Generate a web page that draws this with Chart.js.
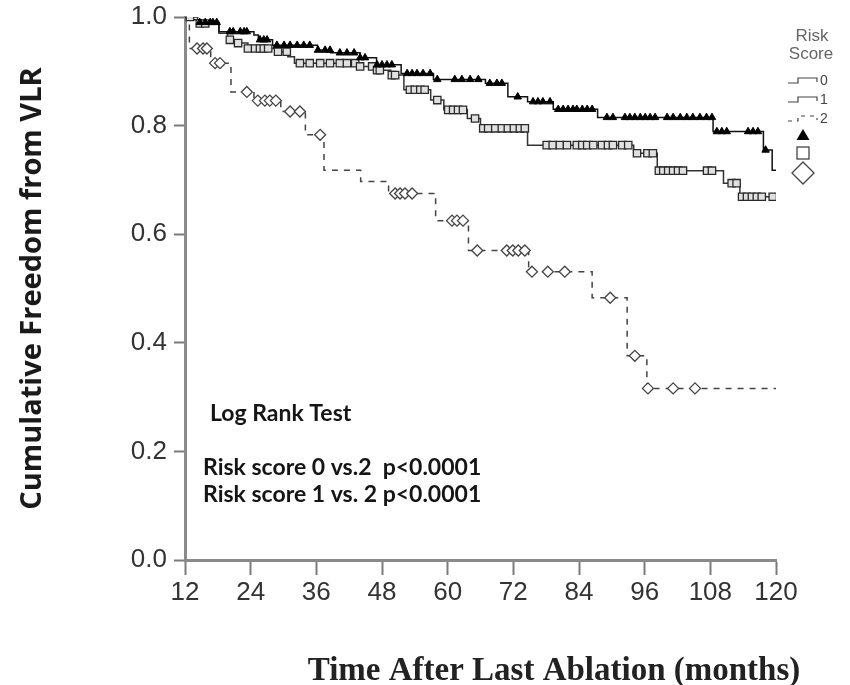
<!DOCTYPE html>
<html><head><meta charset="utf-8">
<script src="https://cdn.jsdelivr.net/npm/chart.js@4/dist/chart.umd.min.js"></script>
<style>html,body{margin:0;padding:0;background:#fff;}#wrap{position:relative;width:850px;height:685px;}</style>
</head><body><div id="wrap"><canvas id="c" width="850" height="685"></canvas></div>
<script>
// ---- axis ticks ----
const xTickValues = [12, 24, 36, 48, 60, 72, 84, 96, 108, 120];
const xTickLabels = ['12', '24', '36', '48', '60', '72', '84', '96', '108', '120'];
const yTickValues = [0, 0.2, 0.4, 0.6, 0.8, 1.0];
const yTickLabels = ['0.0', '0.2', '0.4', '0.6', '0.8', '1.0'];

// ---- Risk score 0 (solid, triangles) ----
const risk0Times = [12, 13, 14.5, 18.2, 24.6, 25.4, 28.0, 36.2, 38.6, 44.0, 47.0, 51.5, 57.4, 66.9, 71.0, 74.6, 79.3, 87.4, 108.5, 117.7, 119.3, 120];
const risk0Surv  = [1.0, 0.995, 0.99, 0.973, 0.967, 0.958, 0.948, 0.939, 0.934, 0.925, 0.912, 0.896, 0.885, 0.878, 0.853, 0.844, 0.830, 0.815, 0.789, 0.755, 0.718, 0.718];
const risk0Censored = [14.7, 15.7, 16.6, 17.1, 17.8, 20.2, 20.8, 22.1, 22.8, 23.3, 25.7, 26.4, 27.0, 28.8, 30.1, 31.2, 32.5, 33.7, 34.8, 36.3, 37.6, 38.5, 40.3, 41.6, 42.9, 44.0, 44.9, 47.1, 48.0, 48.9, 49.8, 52.6, 53.5, 54.4, 55.5, 56.8, 58.1, 61.3, 62.6, 64.1, 65.6, 67.7, 69.0, 69.9, 72.8, 75.6, 76.5, 77.4, 78.7, 80.2, 81.1, 82.0, 82.9, 83.6, 84.6, 85.5, 86.4, 89.1, 90.2, 92.4, 93.3, 94.2, 95.2, 96.1, 97.0, 97.9, 100.1, 101.2, 102.5, 103.7, 104.8, 106.1, 107.3, 108.3, 109.2, 110.1, 111.0, 114.9, 115.8, 116.7, 118.1];

// ---- Risk score 1 (solid, squares) ----
const risk1Times = [12, 14.3, 18.2, 19.8, 21.6, 23.5, 29.0, 30.8, 32.0, 44.0, 46.5, 49.6, 52.0, 56.9, 59.3, 63.6, 66.0, 74.6, 94.0, 98.3, 110.4, 113.4, 120];
const risk1Surv  = [1.0, 0.988, 0.970, 0.958, 0.952, 0.942, 0.936, 0.927, 0.915, 0.909, 0.902, 0.893, 0.866, 0.847, 0.829, 0.813, 0.795, 0.764, 0.749, 0.717, 0.694, 0.669, 0.669];
const risk1Censored = [12.9, 14.7, 15.7, 20.2, 21.7, 23.5, 24.8, 25.7, 26.4, 27.2, 29.0, 30.6, 33.0, 34.8, 36.7, 38.5, 40.3, 41.6, 43.1, 44.0, 46.2, 47.1, 47.6, 49.8, 50.4, 53.1, 54.0, 55.0, 55.8, 58.1, 60.1, 61.0, 61.9, 62.8, 65.0, 66.5, 67.4, 68.7, 69.9, 71.0, 72.1, 73.2, 74.1, 78.1, 79.2, 80.5, 81.8, 83.6, 84.6, 85.5, 86.6, 88.2, 89.3, 90.2, 91.9, 93.0, 94.6, 96.5, 97.5, 98.6, 99.4, 100.3, 101.2, 102.1, 103.0, 107.4, 108.3, 111.9, 112.8, 113.8, 114.7, 115.6, 116.5, 117.4, 119.4];

// ---- Risk score 2 (dashed, diamonds) ----
const risk2Times = [12, 12.8, 16.7, 20.4, 24.6, 29.5, 34.0, 37.4, 44.1, 49.2, 57.8, 63.8, 74.8, 86.4, 92.8, 96.4, 120];
const risk2Surv  = [1.0, 0.942, 0.915, 0.862, 0.846, 0.826, 0.783, 0.718, 0.697, 0.675, 0.625, 0.570, 0.531, 0.483, 0.376, 0.316, 0.316];
const risk2Censored = [14.2, 15.3, 16.0, 17.5, 18.4, 23.3, 25.3, 26.6, 27.5, 28.6, 31.2, 33.0, 36.7, 50.4, 51.3, 52.2, 53.5, 60.8, 61.7, 62.8, 65.4, 70.8, 71.9, 72.9, 74.1, 75.4, 78.3, 81.4, 89.7, 94.2, 96.6, 101.2, 105.2];

const seriesLabels = ['0', '1', '2'];
const annotationLines = ['Log Rank Test', 'Risk score 0 vs.2  p<0.0001', 'Risk score 1 vs. 2 p<0.0001'];
const xTitle = 'Time After Last Ablation (months)';
const yTitle = 'Cumulative Freedom from VLR';
const legendTitle = ['Risk', 'Score'];

function curve(times, surv) { return times.map((t, i) => ({ x: t, y: surv[i] })); }
function survAt(times, surv, t) {
  let v = surv[0];
  for (let i = 0; i < times.length; i++) { if (times[i] <= t) v = surv[i]; }
  return v;
}
function marks(cens, times, surv) { return cens.map(t => ({ x: t, y: survAt(times, surv, t) })); }

const overlay = {
  id: 'overlay',
  afterDraw(chart) {
    const ctx = chart.ctx;
    ctx.save();
    // annotations
    ctx.fillStyle = '#151515';
    ctx.textBaseline = 'alphabetic';
    ctx.textAlign = 'left';
    ctx.font = 'bold 23px Lato';
    ctx.fillText(annotationLines[0], 210, 421);
    ctx.fillText(annotationLines[1], 203, 475);
    ctx.fillText(annotationLines[2], 203, 502);
    // x title
    ctx.font = 'bold 33px "Liberation Serif"';
    ctx.textAlign = 'center';
    ctx.fillStyle = '#222';
    ctx.fillText(xTitle, 554, 680);
    // legend
    ctx.font = '17px "Liberation Sans"';
    ctx.fillStyle = '#666';
    ctx.fillText(legendTitle[0], 812, 41);
    ctx.fillText(legendTitle[1], 811, 59);
    ctx.strokeStyle = '#444';
    ctx.lineWidth = 1.2;
    const ys = [83, 102, 121];
    for (let i = 0; i < 3; i++) {
      const y = ys[i];
      ctx.setLineDash(i === 2 ? [4, 5] : []);
      ctx.beginPath();
      ctx.moveTo(788, y); ctx.lineTo(798, y); ctx.lineTo(798, y - 5); ctx.lineTo(817, y - 5); ctx.lineTo(817, y - 1);
      ctx.stroke();
    }
    ctx.setLineDash([]);
    ctx.font = '14px "Liberation Sans"';
    ctx.fillStyle = '#444';
    ctx.textAlign = 'left';
    ctx.textBaseline = 'middle';
    ctx.fillText(seriesLabels[0], 820, 81);
    ctx.fillText(seriesLabels[1], 820, 100);
    ctx.fillText(seriesLabels[2], 820, 119);
    // triangle
    ctx.fillStyle = '#000';
    ctx.beginPath();
    ctx.moveTo(803, 129); ctx.lineTo(809.5, 140); ctx.lineTo(796.5, 140); ctx.closePath();
    ctx.fill();
    // square
    ctx.strokeStyle = '#444';
    ctx.lineWidth = 1.3;
    ctx.strokeRect(797, 147, 12, 12);
    // diamond
    ctx.beginPath();
    ctx.moveTo(803, 162); ctx.lineTo(814, 173); ctx.lineTo(803, 184); ctx.lineTo(792, 173); ctx.closePath();
    ctx.stroke();
    ctx.restore();
  }
};

new Chart(document.getElementById('c'), {
  type: 'line',
  data: {
    datasets: [
      { data: marks(risk0Censored, risk0Times, risk0Surv), showLine: false, pointStyle: 'triangle', pointRadius: 4.3, backgroundColor: '#000', borderColor: '#000', borderWidth: 1 },
      { data: marks(risk1Censored, risk1Times, risk1Surv), showLine: false, pointStyle: 'rect', pointRadius: 5.2, backgroundColor: '#e0e0e0', borderColor: '#2a2a2a', borderWidth: 1.3 },
      { data: marks(risk2Censored, risk2Times, risk2Surv), showLine: false, pointStyle: 'rectRot', pointRadius: 5.5, backgroundColor: '#fff', borderColor: '#444', borderWidth: 1.3 },
      { data: curve(risk0Times, risk0Surv), stepped: 'before', borderColor: '#111', borderWidth: 1.5, pointRadius: 0 },
      { data: curve(risk1Times, risk1Surv), stepped: 'before', borderColor: '#333', borderWidth: 1.5, pointRadius: 0 },
      { data: curve(risk2Times, risk2Surv), stepped: 'before', borderColor: '#444', borderWidth: 1.5, borderDash: [6, 6], pointRadius: 0 }
    ]
  },
  options: {
    responsive: false,
    animation: false,
    devicePixelRatio: 1,
    layout: { padding: { left: 0, top: 17, right: 74, bottom: 0 } },
    plugins: { legend: { display: false }, tooltip: { enabled: false } },
    scales: {
      x: {
        type: 'linear', min: 12, max: 120,
        afterBuildTicks: s => { s.ticks = xTickValues.map(v => ({ value: v })); },
        afterFit: s => { s.height = 125; s.paddingLeft = 0; s.paddingRight = 0; },
        ticks: { callback: (v, i) => xTickLabels[i], color: '#333', font: { family: 'Liberation Sans', size: 26 }, padding: 2, maxRotation: 0, autoSkip: false },
        grid: { drawOnChartArea: false, drawTicks: true, tickLength: 15, tickColor: '#7a7a7a', tickWidth: 2, color: '#7a7a7a' },
        border: { display: true, color: '#8a8a8a', width: 3 }
      },
      y: {
        type: 'linear', min: 0, max: 1,
        afterBuildTicks: s => { s.ticks = yTickValues.map(v => ({ value: v })); },
        afterFit: s => { s.width = 185; s.paddingTop = 0; s.paddingBottom = 0; },
        ticks: { callback: (v, i) => yTickLabels[i], color: '#333', font: { family: 'Liberation Sans', size: 26 }, padding: 7, autoSkip: false },
        grid: { drawOnChartArea: false, drawTicks: true, tickLength: 11, tickColor: '#7a7a7a', tickWidth: 2, color: '#7a7a7a' },
        border: { display: true, color: '#8a8a8a', width: 3 },
        title: { display: true, text: yTitle, color: '#1a1a1a', font: { family: 'Open Sans', weight: 'bold', size: 29 }, padding: { top: 15, bottom: 0 } }
      }
    }
  },
  plugins: [overlay]
});
</script></body></html>
